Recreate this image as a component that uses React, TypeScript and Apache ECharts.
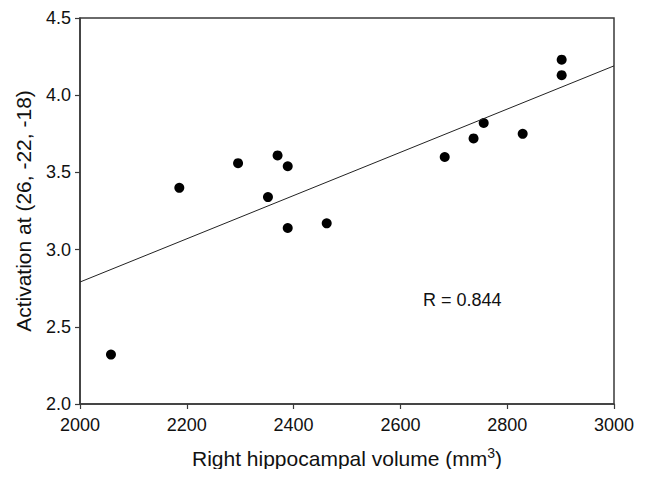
import React, { useEffect, useRef } from "react";
import * as echarts from "echarts";

const volume = [2058, 2186, 2296, 2352, 2370, 2389, 2389, 2462, 2683, 2737, 2756, 2829, 2902, 2902];
const activation = [2.32, 3.4, 3.56, 3.34, 3.61, 3.54, 3.14, 3.17, 3.6, 3.72, 3.82, 3.75, 4.13, 4.23];
const fitX = [2000, 3000];
const fitY = [2.79, 4.19];
const rText = "R = 0.844";

const FONT = "Liberation Sans, Arial, sans-serif";

export default function App() {
  const ref = useRef<HTMLDivElement>(null);
  useEffect(() => {
    if (!ref.current) return;
    const chart = echarts.init(ref.current, undefined, { renderer: "svg" });
    chart.setOption({
      animation: false,
      backgroundColor: "#fff",
      grid: {
        left: 80,
        right: 31,
        top: 18,
        bottom: 73,
        show: true,
        borderColor: "#3a3a3a",
        borderWidth: 1.5,
        backgroundColor: "transparent",
      },
      xAxis: {
        type: "value",
        min: 2000,
        max: 3000,
        interval: 200,
        name: "Right hippocampal volume (mm{sup|3})",
        nameLocation: "middle",
        nameGap: 42,
        nameTextStyle: {
          fontFamily: FONT,
          fontSize: 21,
          color: "#111",
          rich: {
            sup: { fontSize: 14, verticalAlign: "top", padding: [0, 0, 10, 0], fontFamily: FONT, color: "#111" },
          },
        },
        axisLine: { show: true, lineStyle: { color: "#3a3a3a", width: 1.5 } },
        axisTick: { show: true, length: 5, lineStyle: { color: "#3a3a3a", width: 1.2 } },
        axisLabel: {
          fontFamily: FONT,
          fontSize: 18,
          color: "#111",
          margin: 12,
          formatter: (v: number) => String(v),
        },
        splitLine: { show: false },
      },
      yAxis: {
        type: "value",
        min: 2,
        max: 4.5,
        interval: 0.5,
        name: "Activation at (26, -22, -18)",
        nameLocation: "middle",
        nameGap: 46,
        nameTextStyle: { fontFamily: FONT, fontSize: 21, color: "#111" },
        axisLine: { show: true, lineStyle: { color: "#3a3a3a", width: 1.5 } },
        axisTick: { show: true, length: 5, lineStyle: { color: "#3a3a3a", width: 1.2 } },
        axisLabel: {
          fontFamily: FONT,
          fontSize: 18,
          color: "#111",
          margin: 9,
          formatter: (v: number) => v.toFixed(1),
        },
        splitLine: { show: false },
      },
      series: [
        {
          type: "line",
          data: fitX.map((x, i) => [x, fitY[i]]),
          symbol: "none",
          lineStyle: { color: "#222", width: 1 },
          silent: true,
        },
        {
          type: "scatter",
          data: volume.map((x, i) => [x, activation[i]]),
          symbol: "circle",
          symbolSize: 10,
          itemStyle: { color: "#000", opacity: 1 },
        },
      ],
      graphic: [
        {
          type: "text",
          left: 423,
          top: 291,
          style: { text: rText, fontFamily: FONT, fontSize: 18, fill: "#111" },
        },
      ],
    });
    return () => chart.dispose();
  }, []);
  return <div ref={ref} style={{ width: 645, height: 477, margin: -8 }} />;
}
